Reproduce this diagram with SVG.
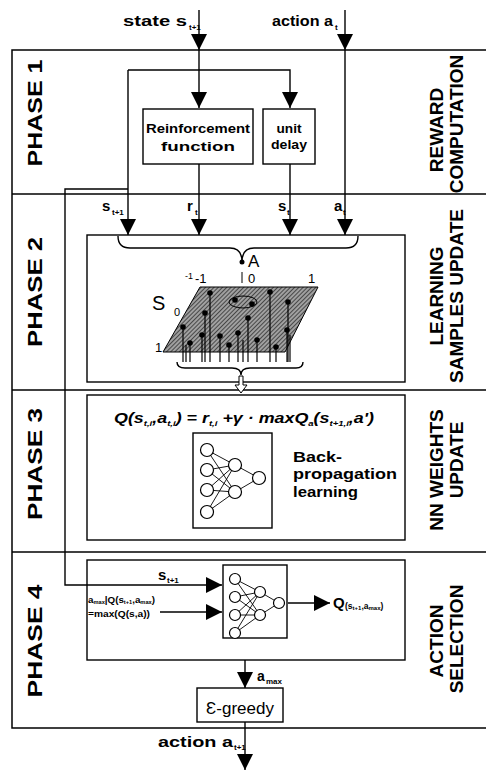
<svg xmlns="http://www.w3.org/2000/svg" width="486" height="772" viewBox="0 0 486 772">
<style>
.ln{stroke:#000;stroke-width:1.4;fill:none}
.fr{stroke:#000;stroke-width:1.5;fill:none}
.bx{stroke:#000;stroke-width:1.4;fill:#fff}
.t{font-family:"Liberation Sans",Arial,sans-serif;font-weight:bold;fill:#000}
.r{font-family:"Liberation Sans",Arial,sans-serif;font-weight:normal;fill:#000}
.ph{font-family:"Liberation Sans",Arial,sans-serif;font-weight:bold;font-size:19.5px;fill:#000}
.lb{font-family:"Liberation Sans",Arial,sans-serif;font-weight:bold;font-size:19px;fill:#000}
.nd{stroke:#000;stroke-width:1.2;fill:#fff}
.nl{stroke:#000;stroke-width:0.9}
.stem{stroke:#000;stroke-width:1.2}
.arr{stroke:#000;stroke-width:1.4;fill:none;marker-end:url(#ah)}
</style>
<defs>
<marker id="ah" viewBox="0 0 16 16" refX="16" refY="8" markerWidth="16" markerHeight="16" markerUnits="userSpaceOnUse" orient="auto">
<path d="M0,0 L16,8 L0,16 z" fill="#000"/>
</marker>
<pattern id="hatch" width="3" height="3" patternUnits="userSpaceOnUse" patternTransform="rotate(45)">
<rect width="3" height="3" fill="#a0a0a0"/>
<line x1="0" y1="0" x2="0" y2="3" stroke="#222" stroke-width="1.4"/>
</pattern>
</defs>
<rect width="486" height="772" fill="#fff"/>

<g id="frame">
<path class="fr" d="M486,50 L12,50 L12,728 L486,728"/>
<line class="fr" x1="12" y1="194" x2="486" y2="194"/>
<line class="fr" x1="12" y1="390" x2="486" y2="390"/>
<line class="fr" x1="12" y1="552" x2="486" y2="552"/>
</g>

<g id="phase-labels">
<text class="ph" transform="translate(42,113) rotate(-90)" text-anchor="middle" textLength="107" lengthAdjust="spacingAndGlyphs">PHASE 1</text>
<text class="ph" transform="translate(42,292) rotate(-90)" text-anchor="middle" textLength="110" lengthAdjust="spacingAndGlyphs">PHASE 2</text>
<text class="ph" transform="translate(42,464) rotate(-90)" text-anchor="middle" textLength="112" lengthAdjust="spacingAndGlyphs">PHASE 3</text>
<text class="ph" transform="translate(42,641) rotate(-90)" text-anchor="middle" textLength="113" lengthAdjust="spacingAndGlyphs">PHASE 4</text>
<text class="lb" transform="translate(443,130) rotate(-90)" text-anchor="middle">REWARD</text>
<text class="lb" transform="translate(463,124) rotate(-90)" text-anchor="middle">COMPUTATION</text>
<text class="lb" transform="translate(443,296) rotate(-90)" text-anchor="middle">LEARNING</text>
<text class="lb" transform="translate(463,296) rotate(-90)" text-anchor="middle">SAMPLES UPDATE</text>
<text class="lb" transform="translate(443,470) rotate(-90)" text-anchor="middle">NN WEIGHTS</text>
<text class="lb" transform="translate(463,460) rotate(-90)" text-anchor="middle">UPDATE</text>
<text class="lb" transform="translate(443,641) rotate(-90)" text-anchor="middle">ACTION</text>
<text class="lb" transform="translate(463,639) rotate(-90)" text-anchor="middle">SELECTION</text>
</g>

<g id="inputs">
<text class="t" x="123" y="26" font-size="15" textLength="64" lengthAdjust="spacingAndGlyphs">state s</text>
<text class="t" x="189" y="30" font-size="8">t+1</text>
<text class="t" x="272" y="26" font-size="15" textLength="61" lengthAdjust="spacingAndGlyphs">action a</text>
<text class="t" x="335" y="30" font-size="8">t</text>
</g>

<g id="reinforcement">
<rect class="bx" x="143" y="109" width="110" height="55"/>
<text class="t" x="198" y="133" font-size="13" text-anchor="middle" textLength="104" lengthAdjust="spacingAndGlyphs">Reinforcement</text>
<text class="t" x="198" y="151" font-size="13" text-anchor="middle" textLength="74" lengthAdjust="spacingAndGlyphs">function</text>
</g>

<g id="unit-delay">
<rect class="bx" x="263" y="109" width="52" height="55"/>
<text class="t" x="289" y="133" font-size="13" text-anchor="middle" textLength="25" lengthAdjust="spacingAndGlyphs">unit</text>
<text class="t" x="289" y="149" font-size="13" text-anchor="middle" textLength="36" lengthAdjust="spacingAndGlyphs">delay</text>
</g>

<g id="sample-labels">
<text class="t" x="102" y="211" font-size="15">s</text>
<text class="t" x="112" y="215" font-size="8">t+1</text>
<text class="t" x="187" y="211" font-size="15">r</text>
<text class="t" x="195" y="215" font-size="8">t</text>
<text class="t" x="278" y="211" font-size="15">s</text>
<text class="t" x="287" y="215" font-size="8">t</text>
<text class="t" x="334" y="211" font-size="15">a</text>
<text class="t" x="343" y="215" font-size="8">t</text>
</g>

<g id="samples">
<rect class="bx" x="87" y="235" width="318" height="147"/>
<path class="ln" d="M118,236 Q118,248 130,248 L230,248 Q242,248 242,262 Q242,248 254,248 L346,248 Q358,248 358,236"/>
<circle cx="242" cy="262" r="2.5" fill="#000"/>
<line x1="242" y1="272" x2="242" y2="283" stroke="#000" stroke-width="1"/>
<text class="r" x="248" y="267" font-size="17">A</text>
<polygon points="200,287 318,287 285,352 163,352" fill="url(#hatch)" stroke="#000" stroke-width="1"/>
<ellipse cx="243" cy="302" rx="14" ry="6" fill="none" stroke="#000" stroke-width="1"/>
<g id="stems">
<line class="stem" x1="210" y1="293" x2="210" y2="362"/>
<line class="stem" x1="270" y1="292" x2="270" y2="362"/>
<line class="stem" x1="288" y1="302" x2="288" y2="362"/>
<line class="stem" x1="205" y1="313" x2="205" y2="362"/>
<line class="stem" x1="248" y1="318" x2="248" y2="362"/>
<line class="stem" x1="183" y1="327" x2="183" y2="362"/>
<line class="stem" x1="202" y1="335" x2="202" y2="362"/>
<line class="stem" x1="220" y1="336" x2="220" y2="362"/>
<line class="stem" x1="238" y1="333" x2="238" y2="362"/>
<line class="stem" x1="190" y1="343" x2="190" y2="362"/>
<line class="stem" x1="229" y1="345" x2="229" y2="362"/>
<line class="stem" x1="257" y1="340" x2="257" y2="362"/>
<line class="stem" x1="276" y1="347" x2="276" y2="362"/>
<line class="stem" x1="287" y1="330" x2="287" y2="362"/>
<line class="stem" x1="243" y1="340" x2="243" y2="362"/>
<line class="stem" x1="186" y1="345" x2="186" y2="362"/>
<line class="stem" x1="290" y1="335" x2="290" y2="362"/>
<g fill="#000">
<circle cx="210" cy="293" r="2.8"/><circle cx="270" cy="292" r="2.8"/><circle cx="288" cy="302" r="2.8"/>
<circle cx="205" cy="313" r="2.8"/><circle cx="248" cy="318" r="2.8"/><circle cx="183" cy="327" r="2.8"/>
<circle cx="202" cy="335" r="2.8"/><circle cx="220" cy="336" r="2.8"/><circle cx="238" cy="333" r="2.8"/>
<circle cx="190" cy="343" r="2.8"/><circle cx="229" cy="345" r="2.8"/><circle cx="257" cy="340" r="2.8"/>
<circle cx="276" cy="347" r="2.8"/><circle cx="287" cy="330" r="2.8"/>
<circle cx="235" cy="300" r="2.8"/><circle cx="252" cy="304" r="2.8"/>
</g>
</g>
<text class="r" x="185" y="279" font-size="9">-1</text>
<text class="r" x="195" y="283" font-size="13">-1</text>
<text class="r" x="248" y="283" font-size="13">0</text>
<text class="r" x="308" y="283" font-size="13">1</text>
<text class="r" x="152" y="310" font-size="20">S</text>
<text class="r" x="174" y="316" font-size="11">0</text>
<text class="r" x="155" y="352" font-size="13">1</text>
<path class="ln" d="M177,362 Q177,368 185,368 L232,368 Q241,368 241,375 Q241,368 250,368 L296,368 Q303,368 303,362"/>
<polygon points="239,376 243,376 243,385 247,385 241,393 235,385 239,385" fill="#fff" stroke="#000" stroke-width="1"/>
</g>

<g id="nn-update">
<rect class="bx" x="87" y="395" width="318" height="145"/>
<text class="t" x="114" y="423" font-size="15" font-style="italic" textLength="260" lengthAdjust="spacingAndGlyphs">Q(s<tspan font-size="8" dy="3">t,i</tspan><tspan dy="-3">,a</tspan><tspan font-size="8" dy="3">t,i</tspan><tspan dy="-3">) = r</tspan><tspan font-size="8" dy="3">t,i</tspan><tspan dy="-3"> +γ · maxQ</tspan><tspan font-size="8" dy="3">a</tspan><tspan dy="-3">(s</tspan><tspan font-size="8" dy="3">t+1,i</tspan><tspan dy="-3">,a')</tspan></text>
<rect class="bx" x="193" y="433" width="79" height="95"/>
<g>
<line class="nl" x1="207" y1="450" x2="235" y2="465"/><line class="nl" x1="207" y1="450" x2="235" y2="492"/>
<line class="nl" x1="207" y1="470" x2="235" y2="465"/><line class="nl" x1="207" y1="470" x2="235" y2="492"/>
<line class="nl" x1="207" y1="490" x2="235" y2="465"/><line class="nl" x1="207" y1="490" x2="235" y2="492"/>
<line class="nl" x1="207" y1="512" x2="235" y2="465"/><line class="nl" x1="207" y1="512" x2="235" y2="492"/>
<line class="nl" x1="235" y1="465" x2="259" y2="478"/><line class="nl" x1="235" y1="492" x2="259" y2="478"/>
<circle class="nd" cx="207" cy="450" r="6.5"/><circle class="nd" cx="207" cy="470" r="6.5"/>
<circle class="nd" cx="207" cy="490" r="6.5"/><circle class="nd" cx="207" cy="512" r="6.5"/>
<circle class="nd" cx="235" cy="465" r="6.5"/><circle class="nd" cx="235" cy="492" r="6.5"/>
<circle class="nd" cx="259" cy="478" r="6.5"/>
</g>
<text class="t" x="293" y="462" font-size="15" textLength="49" lengthAdjust="spacingAndGlyphs">Back-</text>
<text class="t" x="293" y="479" font-size="15" textLength="104" lengthAdjust="spacingAndGlyphs">propagation</text>
<text class="t" x="293" y="497" font-size="15" textLength="65" lengthAdjust="spacingAndGlyphs">learning</text>
</g>

<g id="action-select">
<rect class="bx" x="87" y="560" width="318" height="100"/>
<text class="t" x="158" y="580" font-size="15">s</text>
<text class="t" x="167" y="583" font-size="8">t+1</text>
<text class="t" x="88" y="603" font-size="9.5" textLength="67" lengthAdjust="spacingAndGlyphs">a<tspan font-size="5.5" dy="1">max</tspan><tspan dy="-1">|Q(s</tspan><tspan font-size="5.5" dy="1">t+1</tspan><tspan dy="-1">,a</tspan><tspan font-size="5.5" dy="1">max</tspan><tspan dy="-1">)</tspan></text>
<text class="t" x="88" y="617" font-size="9.5" textLength="62" lengthAdjust="spacingAndGlyphs">=max(Q(s,a))</text>
<text class="t" x="333" y="608" font-size="15">Q</text>
<text class="t" x="345" y="609" font-size="8.5">(s<tspan font-size="6" dy="1">t+1</tspan><tspan dy="-1">,a</tspan><tspan font-size="6" dy="1">max</tspan><tspan dy="-1">)</tspan></text>
</g>

<g id="nn-select">
<rect class="bx" x="223" y="565" width="64" height="73"/>
<line class="nl" x1="235" y1="579" x2="260" y2="592"/><line class="nl" x1="235" y1="579" x2="260" y2="615"/>
<line class="nl" x1="235" y1="597" x2="260" y2="592"/><line class="nl" x1="235" y1="597" x2="260" y2="615"/>
<line class="nl" x1="235" y1="615" x2="260" y2="592"/><line class="nl" x1="235" y1="615" x2="260" y2="615"/>
<line class="nl" x1="235" y1="633" x2="260" y2="592"/><line class="nl" x1="235" y1="633" x2="260" y2="615"/>
<line class="nl" x1="260" y1="592" x2="279" y2="603"/><line class="nl" x1="260" y1="615" x2="279" y2="603"/>
<circle class="nd" cx="235" cy="579" r="5.5"/><circle class="nd" cx="235" cy="597" r="5.5"/>
<circle class="nd" cx="235" cy="615" r="5.5"/><circle class="nd" cx="235" cy="633" r="5.5"/>
<circle class="nd" cx="260" cy="592" r="5.5"/><circle class="nd" cx="260" cy="615" r="5.5"/>
<circle class="nd" cx="279" cy="603" r="5.5"/>
</g>

<g id="egreedy">
<rect class="bx" x="197" y="688" width="86" height="34"/>
<text class="r" x="240" y="714" font-size="17" text-anchor="middle">Ɛ-greedy</text>
<text class="t" x="257" y="681" font-size="14">a</text>
<text class="t" x="266" y="684" font-size="8">max</text>
<text class="t" x="158" y="747" font-size="15" textLength="75" lengthAdjust="spacingAndGlyphs">action a</text>
<text class="t" x="234" y="750" font-size="8">t+1</text>
</g>

<g id="connectors">
<path class="arr" d="M199,10 L199,50"/>
<path class="arr" d="M345,10 L345,50"/>
<path class="arr" d="M199,50 L199,108"/>
<path class="ln" d="M199,70 L128,70"/>
<path class="arr" d="M199,70 L290,70 L290,108"/>
<path class="arr" d="M128,70 L128,235"/>
<path class="arr" d="M345,50 L345,235"/>
<path class="arr" d="M199,164 L199,235"/>
<path class="arr" d="M290,164 L290,235"/>
<path class="arr" d="M128,189 L65,189 L65,585 L222,585"/>
<path class="arr" d="M160,612 L222,612"/>
<path class="arr" d="M288,603 L330,603"/>
<path class="arr" d="M245,660 L245,688"/>
<path class="arr" d="M245,722 L245,770"/>
</g>
</svg>
